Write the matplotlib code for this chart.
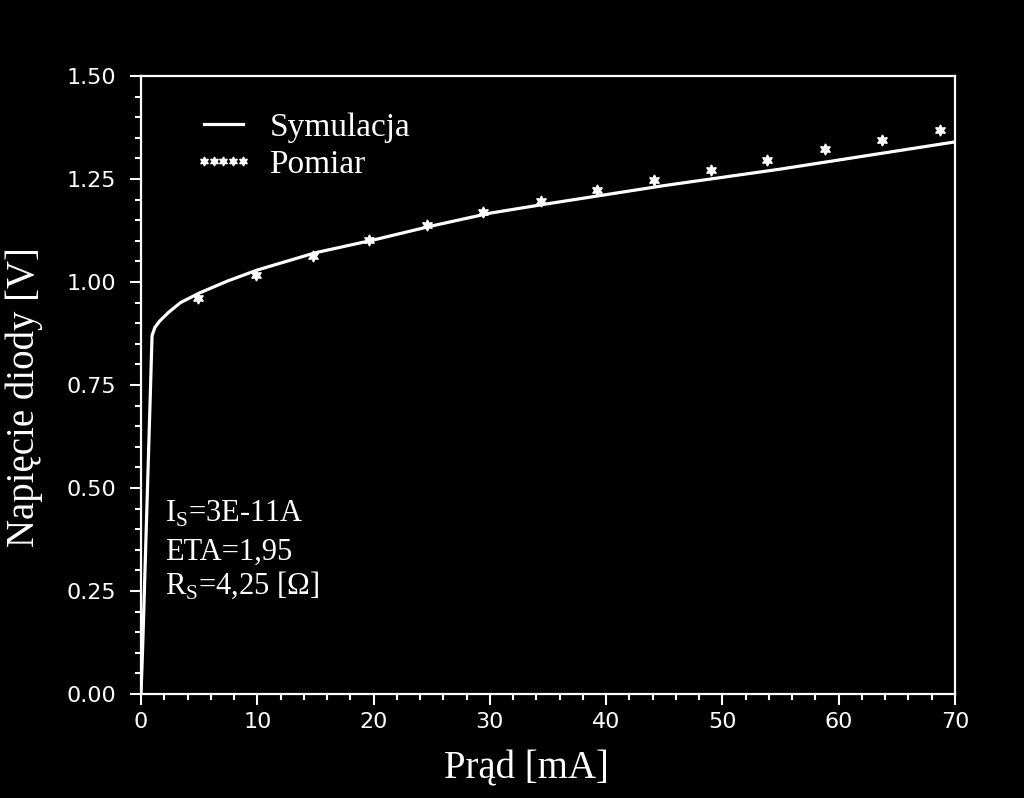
import numpy as np
import matplotlib.pyplot as plt
from matplotlib.ticker import MultipleLocator, FormatStrFormatter

plt.rcParams['mathtext.fontset'] = 'custom'
plt.rcParams['mathtext.rm'] = 'Liberation Serif'

# symulacja
sym_i = [0, 0.15, 0.45, 0.75, 0.95, 1.2, 1.6, 2.4, 3.4, 5, 7.5, 10, 15, 20, 25,
         30, 35, 40, 45, 50, 55, 60, 65, 70]
sym_u = [0, 0.12, 0.40, 0.68, 0.87, 0.89, 0.905, 0.927, 0.950, 0.973, 1.003,
         1.029, 1.071, 1.102, 1.136, 1.167, 1.190, 1.212, 1.234, 1.254, 1.274,
         1.296, 1.318, 1.340]

# pomiar
pom_i = [4.93, 9.89, 14.8, 19.6, 24.6, 29.4, 34.4, 39.2, 44.1, 49.0, 53.8,
         58.8, 63.7, 68.7]
pom_u = [0.960, 1.017, 1.062, 1.101, 1.138, 1.171, 1.197, 1.223, 1.248, 1.272,
         1.296, 1.323, 1.345, 1.369]

fg = 'white'
fig = plt.figure(figsize=(10.24, 7.98), dpi=100, facecolor='black')
ax = fig.add_axes([0.1377, 0.1303, 0.7949, 0.7745], facecolor='black')

ax.plot(sym_i, sym_u, color=fg, lw=2.3, label='Symulacja')
ax.plot(pom_i, pom_u, ls='none', marker=(6, 1, 0), ms=8, color=fg,
        label='Pomiar')

ax.set_xlim(0, 70)
ax.set_ylim(0, 1.5)
ax.xaxis.set_major_locator(MultipleLocator(10))
ax.xaxis.set_minor_locator(MultipleLocator(2))
ax.yaxis.set_major_locator(MultipleLocator(0.25))
ax.yaxis.set_minor_locator(MultipleLocator(0.05))
ax.yaxis.set_major_formatter(FormatStrFormatter('%.2f'))

for s in ax.spines.values():
    s.set_color(fg)
    s.set_linewidth(1.6)
ax.tick_params(which='both', colors=fg, direction='out', width=1.5)
ax.tick_params(which='major', length=8, labelsize=16)
ax.tick_params(axis='y', which='major', pad=10)
ax.tick_params(axis='x', which='major', pad=5)
ax.tick_params(which='minor', length=4)

serif = 'Liberation Serif'
ax.set_xlabel('Prąd [mA]', family=serif, fontsize=28, color=fg)
ax.set_ylabel('Napięcie diody [V]', family=serif, fontsize=28, color=fg)
ax.xaxis.set_label_coords(0.474, -0.092)
ax.yaxis.set_label_coords(-0.12, 0.48)

leg = ax.legend(loc='upper left', bbox_to_anchor=(0.045, 0.968), frameon=False,
                prop={'family': serif, 'size': 24}, numpoints=5,
                handlelength=1.75, handletextpad=0.5, borderpad=0,
                labelspacing=0.2, markerscale=0.8)
for t in leg.get_texts():
    t.set_color(fg)

ann = ['I$_\\mathrm{S}$=3E-11A', 'ETA=1,95', 'R$_\\mathrm{S}$=4,25 [Ω]']
ann_y = [0.278, 0.217, 0.162]
for s, y in zip(ann, ann_y):
    ax.text(0.0295, y, s, transform=ax.transAxes, family=serif, fontsize=22,
            color=fg, va='baseline', ha='left')

fig.savefig('out.png', dpi=100, facecolor='black')
